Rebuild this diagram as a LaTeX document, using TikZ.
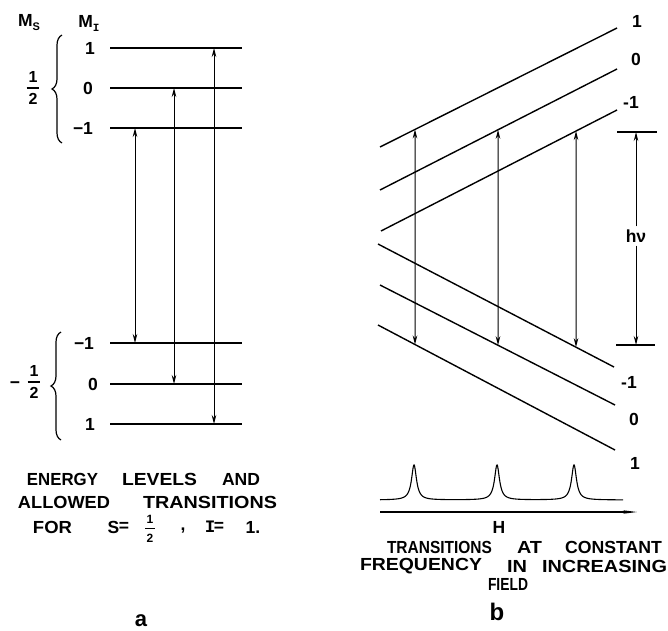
\documentclass[tikz,border=0pt]{standalone}
\usepackage{graphicx}
\usepackage{fontspec}
\setmainfont{Liberation Sans}
\newfontfamily\monoI{Liberation Mono}
\usetikzlibrary{arrows.meta,decorations.pathreplacing,calc}
\newcommand{\fitw}[2]{\resizebox{#1pt}{\height}{#2}}
\newcommand{\halfstack}[1]{{\fontsize{#1}{#1}\selectfont\bfseries\shortstack{1\\[1.5pt]\rule{0.8em}{1.4pt}\\[1.5pt]2}}}
\begin{document}
\begin{tikzpicture}[x=1pt,y=-1pt,
  lev/.style={line width=1.4pt},
  tip/.tip={Stealth[length=9pt,width=4.5pt]},
  tr/.style={line width=1pt,tip-tip},
  onearr/.style={line width=1pt,-tip},
  txt/.style={inner sep=0pt,font=\fontsize{17.5}{17.5}\selectfont\bfseries},
  brc/.style={line width=1.2pt,decorate,decoration={brace,amplitude=10pt,aspect=0.5}}]
\useasboundingbox (0,0) rectangle (668,630);

% ---------- panel a ----------
\node[txt] (ms) at (29,23) {M\raisebox{-4pt}{\fontsize{11}{11}\selectfont\bfseries S}};
\node[txt] (mi) at (89,23) {M\raisebox{-4pt}{\fontsize{11}{11}\selectfont\monoI\bfseries I}};

\foreach \n/\y in {ua/48, ub/88, uc/128, la/343, lb/384, lc/424}{
  \coordinate (\n L) at (110,\y);
  \coordinate (\n R) at (242,\y);
  \draw[lev] (\n L) -- (\n R);
}
\node[txt] (lua) at (90,48) {1};
\node[txt] (lub) at (88,88) {0};
\node[txt] (luc) at (83,128) {−1};
\node[txt] (lla) at (84,343) {−1};
\node[txt] (llb) at (93,384) {0};
\node[txt] (llc) at (90,424) {1};

\coordinate (br1a) at (62,143);
\coordinate (br1b) at (62,35);
\draw[brc] (br1a) -- (br1b);
\coordinate (br2a) at (61,440);
\coordinate (br2b) at (61,332);
\draw[brc] (br2a) -- (br2b);
\node[txt] (fu) at (33,88) {\halfstack{16}};
\node[txt] (fm) at (15,385) {−};
\node[txt] (fl) at (34,382) {\halfstack{16}};

\coordinate (a1t) at (135,128); \coordinate (a1b) at (135,343);
\coordinate (a2t) at (174,88);  \coordinate (a2b) at (174,384);
\coordinate (a3t) at (214,48);  \coordinate (a3b) at (214,424);
\draw[tr] (a1t) -- (a1b);
\draw[tr] (a2t) -- (a2b);
\draw[tr] (a3t) -- (a3b);

\node[txt] (w1) at (62.5,479) {\fitw{71}{ENERGY}};
\node[txt] (w2) at (159.5,479) {\fitw{75}{LEVELS}};
\node[txt] (w3) at (241,479) {\fitw{38}{AND}};
\node[txt] (w4) at (64,502.5) {\fitw{92}{ALLOWED}};
\node[txt] (w5) at (210,502.5) {\fitw{134}{TRANSITIONS}};
\node[txt] (w6) at (52.5,527) {\fitw{39}{FOR}};
\node[txt] (w7) at (113.5,527) {S};
\node[txt] (w8) at (124,527) {=};
\node[txt] (w9) at (150,528.5) {\halfstack{12}};
\node[txt] (w10) at (183,531) {,};
\node[txt] (w11) at (210,527) {\monoI\bfseries I};
\node[txt] (w12) at (219,527) {=};
\node[txt] (w13) at (253,527) {1.};
\node[inner sep=0pt,anchor=base,font=\fontsize{22}{22}\selectfont\bfseries] (la) at (141,626) {a};

% ---------- panel b ----------
\coordinate (U1a) at (380,147); \coordinate (U1b) at (617,28);
\coordinate (U0a) at (380,190); \coordinate (U0b) at (617,69);
\coordinate (Uma) at (381,231); \coordinate (Umb) at (617,110);
\coordinate (Lma) at (378,244); \coordinate (Lmb) at (614,367);
\coordinate (L0a) at (380,285); \coordinate (L0b) at (615,405);
\coordinate (L1a) at (378,325); \coordinate (L1b) at (615,450);
\foreach \p in {U1,U0,Um,Lm,L0,L1}{\draw[lev] (\p a) -- (\p b);}

\node[txt] (r1) at (637,21) {1};
\node[txt] (r2) at (636,59) {0};
\node[txt] (r3) at (631,102) {-1};
\node[txt] (r4) at (629,382) {-1};
\node[txt] (r5) at (634,419) {0};
\node[txt] (r6) at (635,463) {1};

\draw[tr] ($(U1a)!{35/237}!(U1b)$) -- ($(L1a)!{37/237}!(L1b)$);
\draw[tr] ($(U0a)!{118/237}!(U0b)$) -- ($(L0a)!{118/235}!(L0b)$);
\draw[tr] ($(Uma)!{195/236}!(Umb)$) -- ($(Lma)!{198/236}!(Lmb)$);

\coordinate (hA) at (617,132); \coordinate (hB) at (657,132);
\coordinate (hC) at (616,345); \coordinate (hD) at (655,345);
\draw[lev] (hA) -- (hB);
\draw[lev] (hC) -- (hD);
\coordinate (hTop) at (636,132); \coordinate (hBot) at (636,345);
\node[txt,inner sep=3pt] (hv) at (636,236) {hν};
\draw[onearr] (hv) -- (hTop);
\draw[onearr] (hv) -- (hBot);

\draw[line width=1.1pt] plot[domain=380:623,samples=700]
  (\x,{500-35/(1+((\x-414)/3)^2)-35/(1+((\x-497)/3)^2)-35/(1+((\x-574)/3)^2)});
\coordinate (ax1) at (380,512); \coordinate (ax2) at (637,512);
\draw[line width=1.1pt,-{Stealth[length=14pt,width=3.5pt]}] (ax1) -- (ax2);
\node[txt] (hh) at (499,527) {H};

\node[txt] (v1) at (439.5,547.5) {\fitw{105}{TRANSITIONS}};
\node[txt] (v2) at (529.5,547.5) {\fitw{25}{AT}};
\node[txt] (v3) at (613.5,547.5) {\fitw{97}{CONSTANT}};
\node[txt] (v4) at (421,566) {\fitw{122}{FREQUENCY}};
\node[txt] (v5) at (517,566) {\fitw{20}{IN}};
\node[txt] (v6) at (604.5,566) {\fitw{125}{INCREASING}};
\node[txt] (v7) at (508,584) {\fitw{40}{FIELD}};
\node[inner sep=0pt,anchor=base,font=\fontsize{24}{24}\selectfont\bfseries] (lb) at (497,620) {b};
\end{tikzpicture}
\end{document}
